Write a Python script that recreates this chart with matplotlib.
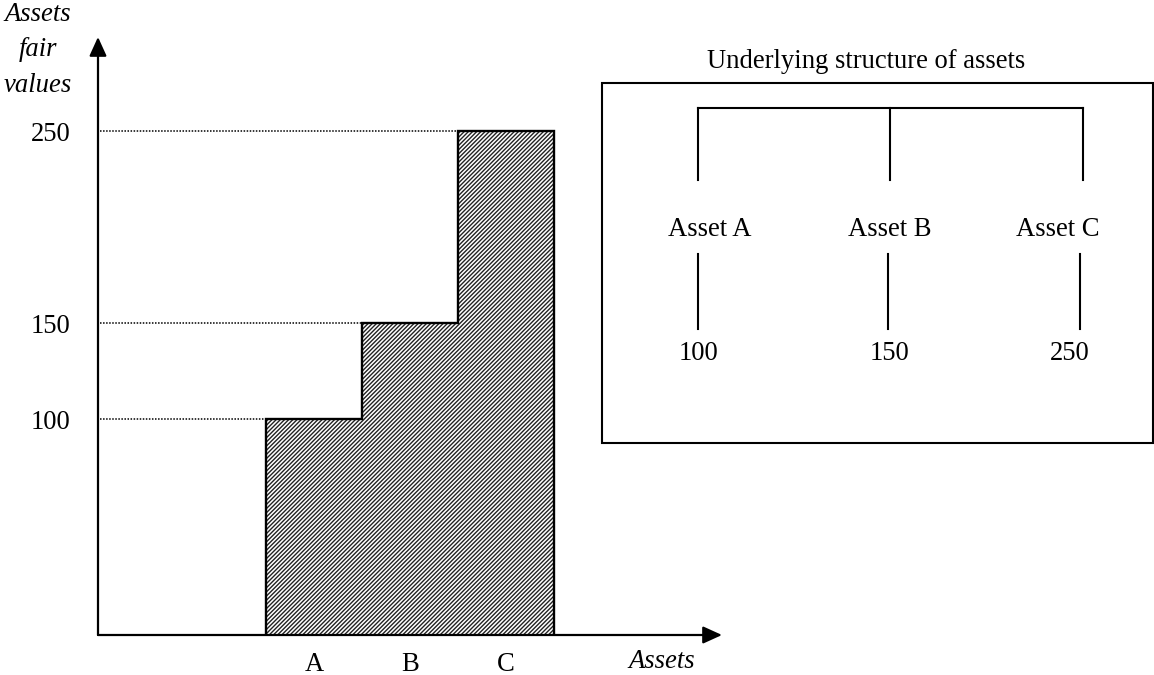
import matplotlib
matplotlib.use("Agg")
import matplotlib.pyplot as plt
from matplotlib.patches import Rectangle

# chart data
categories = ["A", "B", "C"]
fair_values = [100, 150, 250]
tree_title = "Underlying structure of assets"
x_title = "Assets"
y_title = "Assets\nfair\nvalues"

W, H = 1154, 675
plt.rcParams["font.family"] = ["Liberation Serif", "DejaVu Serif"]
plt.rcParams["hatch.linewidth"] = 1.0
FS = 19.2


def fx(px):
    return px / W


def fy(py):
    return 1 - py / H


fig = plt.figure(figsize=(W / 100, H / 100), dpi=100)

# main stepped bar chart, axes box spans the two arrows
ax = fig.add_axes([fx(98), fy(635), fx(722) - fx(98), fy(37) - fy(635)])
x_lo, x_hi = -2.25, 4.25
y_lo, y_hi = -12.5, 299.0
ax.set_xlim(x_lo, x_hi)
ax.set_ylim(y_lo, y_hi)
for s in ax.spines.values():
    s.set_visible(False)

xpos = list(range(len(categories)))
heights = [v - y_lo for v in fair_values]
ax.bar(xpos, heights, bottom=y_lo, width=1.0, facecolor="white",
       edgecolor="#222222", linewidth=0, hatch="////////", zorder=2)

# outline of the staircase
sx = [xpos[0] - 0.5]
sy = [y_lo]
for x, v in zip(xpos, fair_values):
    sx += [x - 0.5, x + 0.5]
    sy += [v, v]
sx.append(xpos[-1] + 0.5)
sy.append(y_lo)
ax.plot(sx, sy, color="black", lw=1.7, zorder=3, solid_joinstyle="miter")

# dotted guides from the axis to each step
for x, v in zip(xpos, fair_values):
    ax.plot([x_lo + 0.02, x - 0.5], [v, v], color="black", lw=1.1,
            linestyle=(0, (1, 1)), zorder=1)

ax.set_yticks(fair_values)
ax.set_yticklabels([str(v) for v in fair_values], fontsize=FS)
ax.set_xticks(xpos)
ax.set_xticklabels(categories, fontsize=FS)
ax.tick_params(axis="y", length=0, pad=20)
ax.tick_params(axis="x", length=0, pad=12)

arrow = dict(arrowstyle="-|>,head_length=0.55,head_width=0.25", color="black",
             lw=1.6, mutation_scale=21, shrinkA=0, shrinkB=0)
ax.annotate("", xy=(1, 0), xytext=(0, 0), xycoords="axes fraction", arrowprops=arrow)
ax.annotate("", xy=(0, 1), xytext=(0, 0), xycoords="axes fraction", arrowprops=arrow)

fig.text(fx(38), fy(2), y_title, ha="center", va="top", fontsize=FS,
         style="italic", linespacing=1.55)
fig.text(fx(662), fy(662), x_title, ha="center", va="center", fontsize=FS,
         style="italic")

# right-hand structure diagram (pixel coordinates)
d = fig.add_axes([0, 0, 1, 1])
d.set_xlim(0, W)
d.set_ylim(H, 0)
d.axis("off")
d.add_patch(Rectangle((602, 83), 551, 360, fill=False, edgecolor="black", lw=1.5))
d.text(866, 61, tree_title, ha="center", va="center", fontsize=FS)

branch_x = [698, 890, 1083]
label_x = [710, 890, 1058]
lower_x = [698, 888, 1080]
value_x = [699, 890, 1070]
d.plot([branch_x[0], branch_x[-1]], [108, 108], color="black", lw=1.5)
for i, cat in enumerate(categories):
    d.plot([branch_x[i], branch_x[i]], [108, 180], color="black", lw=1.5)
    d.text(label_x[i], 229, "Asset " + cat, ha="center", va="center", fontsize=FS)
    d.plot([lower_x[i], lower_x[i]], [254, 329], color="black", lw=1.5)
    d.text(value_x[i], 354, str(fair_values[i]), ha="center", va="center", fontsize=FS)

fig.savefig("out.png", dpi=100)
